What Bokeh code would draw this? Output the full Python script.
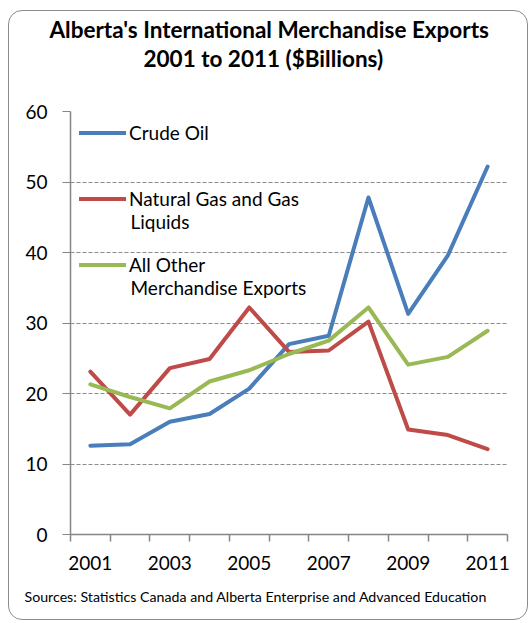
from bokeh.plotting import figure
from bokeh.models import Legend, LegendItem, FixedTicker, Label, Range1d, Title
from bokeh.embed import file_html
from bokeh.resources import INLINE

# ---- data ----
years = list(range(2001, 2012))
crude_oil = [12.6, 12.8, 16.0, 17.1, 20.7, 27.0, 28.2, 47.8, 31.3, 39.6, 52.2]
natural_gas = [23.1, 17.0, 23.6, 24.9, 32.2, 25.9, 26.1, 30.2, 14.9, 14.1, 12.1]
all_other = [21.3, 19.5, 17.9, 21.7, 23.3, 25.6, 27.5, 32.2, 24.1, 25.2, 28.9]
y_ticks = [0, 10, 20, 30, 40, 50, 60]
x_label_years = [2001, 2003, 2005, 2007, 2009, 2011]
title_lines = ["Alberta's International Merchandise Exports", "2001 to 2011 ($Billions)"]
series_names = [["Crude Oil"], ["Natural Gas and Gas", "Liquids"], ["All Other", "Merchandise Exports"]]
source_text = "Sources: Statistics Canada and Alberta Enterprise and Advanced Education"

FONT = "Lato"
GRAY = "#868686"

p = figure(width=520, height=610,
           x_range=Range1d(years[0] - 0.5, years[-1] + 0.5),
           y_range=Range1d(0, 60),
           output_backend="svg", toolbar_location=None,
           min_border_left=61, min_border_right=22,
           min_border_top=100, min_border_bottom=87)
p.styles = {"border": "1.3px solid #8c8c8c", "border-radius": "14px",
            "margin-left": "8px", "margin-top": "10px"}
p.border_fill_color = None
p.background_fill_color = "white"
p.outline_line_color = None

# axes
p.yaxis.ticker = FixedTicker(ticks=y_ticks)
p.yaxis.major_tick_out = 8
p.yaxis.major_tick_in = 0
p.yaxis.minor_tick_out = 0
p.yaxis.minor_tick_in = 0
p.yaxis.major_tick_line_color = GRAY
p.yaxis.axis_line_color = GRAY
p.yaxis.axis_line_width = 1.5
p.yaxis.major_label_text_font = FONT
p.yaxis.major_label_text_font_size = "19px"
p.yaxis.major_label_text_color = "black"
p.yaxis.major_label_standoff = 15

boundaries = [y - 0.5 for y in years] + [years[-1] + 0.5]
p.xaxis.ticker = FixedTicker(ticks=x_label_years, minor_ticks=boundaries)
p.xaxis.major_tick_out = 0
p.xaxis.major_tick_in = 0
p.xaxis.minor_tick_out = 7
p.xaxis.minor_tick_in = 0
p.xaxis.minor_tick_line_color = GRAY
p.xaxis.minor_tick_line_width = 1.5
p.xaxis.axis_line_color = GRAY
p.xaxis.axis_line_width = 1.5
p.xaxis.major_label_text_font = FONT
p.xaxis.major_label_text_font_size = "19px"
p.xaxis.major_label_text_color = "black"
p.xaxis.major_label_standoff = 14

p.xgrid.visible = False
p.ygrid.ticker = FixedTicker(ticks=y_ticks[1:])
p.ygrid.grid_line_color = "#8c8c8c"
p.ygrid.grid_line_dash = "4 2"
p.ygrid.grid_line_width = 1

# series
colors = ["#4A7EBB", "#BE4B48", "#98B954"]
renderers = []
for vals, c in zip([crude_oil, natural_gas, all_other], colors):
    r = p.line(years, vals, line_color=c, line_width=4, line_join="round", line_cap="round")
    renderers.append(r)

legend = Legend(items=[LegendItem(label=n[0], renderers=[r]) for n, r in zip(series_names, renderers)],
                location="top_left")
legend.margin = 9
legend.padding = 0
legend.spacing = 41
legend.label_height = 25
legend.glyph_height = 25
legend.glyph_width = 47
legend.label_standoff = 3
legend.label_text_font = FONT
legend.label_text_font_size = "19px"
legend.label_text_color = "black"
legend.border_line_color = None
legend.background_fill_alpha = 0
p.add_layout(legend)

# second lines of legend labels (frame-relative screen units)
for text, yy in [(series_names[1][1], 313), (series_names[2][1], 247)]:
    p.add_layout(Label(x=60, y=yy, x_units="screen", y_units="screen", text=text,
                       text_font=FONT, text_font_size="19px", text_color="black",
                       text_baseline="middle", text_align="left"))

# titles: spacer closest to the frame, then line 2, then line 1
p.add_layout(Title(text=" ", align="left", standoff=26, text_font=FONT,
                   text_font_size="10px"), "above")
p.add_layout(Title(text=title_lines[1], align="left", offset=73, standoff=0,
                   text_font=FONT, text_font_style="bold", text_font_size="22.5px",
                   text_color="black"), "above")
p.add_layout(Title(text=title_lines[0], align="left", offset=-21, standoff=0,
                   text_font=FONT, text_font_style="bold", text_font_size="22.5px",
                   text_color="black"), "above")

p.add_layout(Title(text=source_text, align="left", offset=-46, standoff=27,
                   text_font=FONT, text_font_style="normal", text_font_size="14.2px",
                   text_color="black"), "below")

open("out.html", "w").write(file_html(p, INLINE))
